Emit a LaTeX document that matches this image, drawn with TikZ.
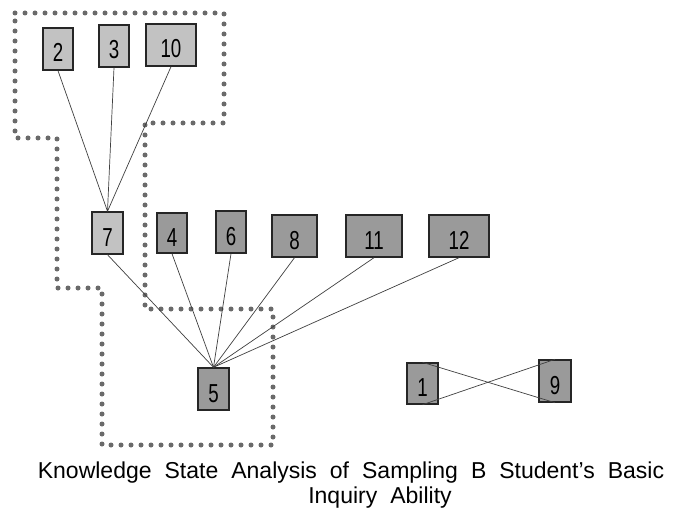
\documentclass[tikz,border=0pt]{standalone}
\usepackage{fontspec}
\setmainfont{Liberation Sans}
\newfontfamily\boxfont[FakeStretch=0.72]{Liberation Sans}
\usetikzlibrary{shadows}
\definecolor{lightbox}{HTML}{C2C2C2}
\definecolor{darkbox}{HTML}{9A9A9A}
\definecolor{dotgray}{HTML}{6A6A6A}
\newcommand{\capfont}{\fontsize{23}{25}\selectfont\spaceskip=13pt\relax}

\tikzset{
  state/.style={draw=black!85, line width=1.4pt, inner sep=0pt,
    minimum height=42pt, text height=26pt, text depth=0pt,
    font=\boxfont\fontsize{26}{26}\selectfont,
    drop shadow={shadow xshift=1.2pt, shadow yshift=1.2pt, opacity=0.35}},
  upper/.style={state, fill=lightbox},
  lower/.style={state, fill=darkbox},
  link/.style={draw=black!75, line width=0.7pt},
  region/.style={dotgray, line width=5pt, line cap=round, dash pattern=on 0pt off 10pt}
}

\begin{document}
\begin{tikzpicture}[x=1pt, y=-1pt]
        \useasboundingbox[fill=white] (0,0) rectangle (677,513);

        % Dotted region around the upper states
        \draw[region] (15,13) -- (224,13) -- (224,123) -- (145,123) -- (145,309)
          -- (273,309) -- (273,445) -- (102,445) -- (102,288) -- (57,288)
          -- (57,138) -- (15,138) -- cycle;

        % Top row
        \node[upper, minimum width=30pt] (s2) at (58,49) {2};
        \node[upper, minimum width=30pt] (s3) at (114,46) {3};
        \node[upper, minimum width=50pt] (s10) at (171,45) {10};

        % Middle row
        \node[upper, minimum width=31pt] (s7) at (107.5,233) {7};
        \node[lower, minimum width=30pt, minimum height=40pt] (s4) at (172,233) {4};
        \node[lower, minimum width=30pt] (s6) at (231,232) {6};
        \node[lower, minimum width=45pt] (s8) at (294.5,236) {8};
        \node[lower, minimum width=56pt] (s11) at (374,236) {11};
        \node[lower, minimum width=60pt] (s12) at (459,236) {12};

        % Bottom row
        \node[lower, minimum width=31pt] (s5) at (213.5,389) {5};
        \node[lower, minimum width=31pt, minimum height=41pt] (s1) at (422.5,383.5) {1};
        \node[lower, minimum width=32pt] (s9) at (555,381) {9};

        % Links
        \foreach \s in {s2,s3,s10}
          \draw[link] (\s.south) -- (s7.north);
        \foreach \s in {s7,s4,s6,s8,s11,s12}
          \draw[link] (\s.south) -- (s5.north);
        \draw[link] (s1.north) -- (s9.south);
        \draw[link] (s1.south) -- (s9.north);

        % Caption
        \node[align=center, anchor=north, inner sep=0pt, font=\capfont] (cap) at (351,462)
          {Knowledge State Analysis of Sampling B Student's Basic\\\hspace*{58pt}Inquiry Ability};
\end{tikzpicture}
\end{document}
